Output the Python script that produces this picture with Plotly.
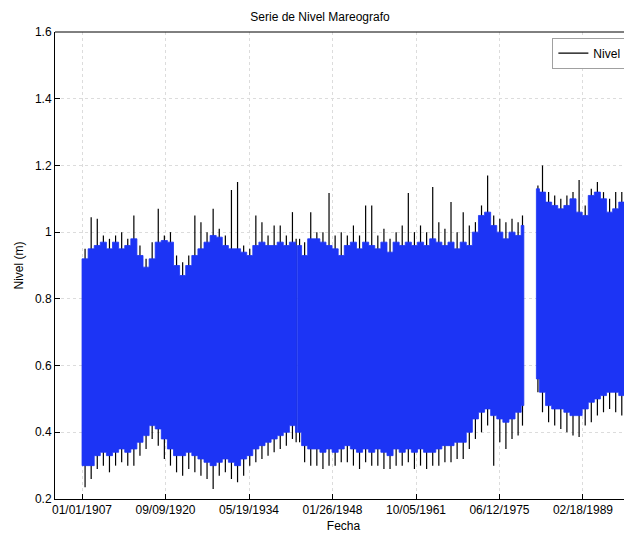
import pandas as pd
import plotly.graph_objects as go

# ---- data ----
years = list(range(1907, 1998))

upper_blue = [
    0.92, 0.95, 0.96, 0.97, 0.95, 0.97, 0.95, 0.96, 0.98, 0.93,   # 1907-1916
    0.895, 0.92, 0.97, 0.975, 0.97, 0.90, 0.87, 0.90, 0.93, 0.95,  # 1917-1926
    0.97, 0.99, 0.985, 0.96, 0.95, 0.95, 0.94, 0.93, 0.96, 0.97,   # 1927-1936
    0.96, 0.96, 0.97, 0.96, 0.97, 0.96, 0.93, 0.98, 0.98, 0.97,    # 1937-1946
    0.96, 0.95, 0.93, 0.96, 0.97, 0.95, 0.97, 0.96, 0.95, 0.97,    # 1947-1956
    0.94, 0.97, 0.96, 0.97, 0.96, 0.97, 0.96, 0.98, 0.97, 0.96,    # 1957-1966
    0.97, 0.95, 0.97, 0.96, 1.00, 1.05, 1.06, 1.02, 1.00, 0.98,    # 1967-1976
    1.00, 0.99, 1.02, None, 1.13, 1.12, 1.09, 1.08, 1.07, 1.08,    # 1977-1986
    1.10, 1.06, 1.05, 1.11, 1.12, 1.10, 1.06, 1.07, 1.09, 1.10,    # 1987-1996
    1.05,                                                          # 1997
]
upper_black = [
    0.95, 1.045, 1.04, 0.99, 0.98, 0.99, 1.00, 0.98, 1.05, 0.96,
    0.92, 0.97, 1.07, 0.99, 1.00, 0.93, 0.91, 0.93, 1.05, 1.03,
    1.00, 1.07, 1.01, 0.99, 1.126, 1.15, 0.96, 0.95, 1.05, 1.03,
    0.99, 1.02, 1.02, 0.99, 1.06, 0.98, 0.97, 1.06, 1.00, 1.00,
    1.117, 0.99, 1.00, 0.99, 1.02, 0.99, 1.08, 1.08, 0.99, 1.01,
    0.98, 1.00, 1.02, 1.117, 1.00, 1.02, 1.00, 1.135, 1.03, 1.01,
    1.09, 1.00, 1.06, 1.02, 1.03, 1.08, 1.17, 1.05, 1.04, 1.03,
    1.04, 1.03, 1.05, None, 1.14, 1.20, 1.12, 1.11, 1.10, 1.11,
    1.12, 1.156, 1.08, 1.13, 1.15, 1.12, 1.10, 1.12, 1.12, 1.156,
    1.10,
]
lower_blue = [
    0.30, 0.30, 0.33, 0.34, 0.33, 0.34, 0.35, 0.34, 0.35, 0.37,
    0.39, 0.42, 0.41, 0.38, 0.35, 0.33, 0.33, 0.34, 0.33, 0.32,
    0.31, 0.30, 0.31, 0.32, 0.31, 0.30, 0.32, 0.33, 0.35, 0.36,
    0.37, 0.38, 0.39, 0.40, 0.42, 0.40, 0.36, 0.35, 0.35, 0.34,
    0.35, 0.34, 0.35, 0.36, 0.35, 0.34, 0.35, 0.34, 0.35, 0.34,
    0.33, 0.35, 0.34, 0.35, 0.34, 0.35, 0.34, 0.34, 0.35, 0.36,
    0.36, 0.37, 0.37, 0.40, 0.44, 0.46, 0.47, 0.45, 0.44, 0.43,
    0.44, 0.46, 0.48, None, 0.56, 0.52, 0.48, 0.47, 0.47, 0.46,
    0.45, 0.45, 0.47, 0.49, 0.50, 0.51, 0.52, 0.52, 0.51, 0.52,
    0.52,
]
lower_black = [
    0.235, 0.26, 0.29, 0.30, 0.28, 0.30, 0.31, 0.30, 0.30, 0.33,
    0.35, 0.38, 0.36, 0.32, 0.30, 0.28, 0.27, 0.29, 0.28, 0.27,
    0.26, 0.23, 0.27, 0.28, 0.26, 0.25, 0.27, 0.30, 0.31, 0.32,
    0.33, 0.34, 0.35, 0.36, 0.38, 0.37, 0.31, 0.30, 0.30, 0.29,
    0.30, 0.30, 0.31, 0.31, 0.30, 0.29, 0.31, 0.30, 0.30, 0.29,
    0.29, 0.30, 0.30, 0.31, 0.29, 0.30, 0.29, 0.30, 0.30, 0.31,
    0.31, 0.32, 0.32, 0.35, 0.38, 0.40, 0.42, 0.30, 0.37, 0.35,
    0.38, 0.39, 0.42, None, 0.52, 0.46, 0.43, 0.42, 0.41, 0.40,
    0.39, 0.386, 0.42, 0.43, 0.45, 0.46, 0.47, 0.46, 0.45, 0.46,
    0.46,
]

# recorded periods (gaps in the record between them)
segment_starts = ["1907-01-01", "1942-05-05", "1981-07-01"]
segment_ends = ["1942-03-20", "1979-06-10", "1998-01-01"]

x_tick_labels = ["01/01/1907", "09/09/1920", "05/19/1934", "01/26/1948",
                 "10/05/1961", "06/12/1975", "02/18/1989"]
y_tick_values = [0.2, 0.4, 0.6, 0.8, 1.0, 1.2, 1.4, 1.6]
y_tick_labels = ["0.2", "0.4", "0.6", "0.8", "1", "1.2", "1.4", "1.6"]

# ---- build traces ----
bx, by = [], []      # blue band (polygon per segment)
kx, ky = [], []      # black extremes (vertical strokes)
for s0, s1 in zip(segment_starts, segment_ends):
    s0, s1 = pd.Timestamp(s0), pd.Timestamp(s1)
    bins = []
    for i, yr in enumerate(years):
        if upper_blue[i] is None:
            continue
        a = max(pd.Timestamp(f"{yr}-01-01"), s0)
        b = min(pd.Timestamp(f"{yr + 1}-01-01"), s1)
        if a >= b:
            continue
        bins.append((a, b, i))
    top_x, top_y, bot_x, bot_y = [], [], [], []
    for a, b, i in bins:
        top_x += [a, b]
        top_y += [upper_blue[i], upper_blue[i]]
        bot_x += [a, b]
        bot_y += [lower_blue[i], lower_blue[i]]
        m = a + (b - a) / 2
        kx += [m, m, None]
        ky += [lower_black[i], upper_black[i], None]
    bx += top_x + bot_x[::-1] + [top_x[0], None]
    by += top_y + bot_y[::-1] + [top_y[0], None]

blue = "rgb(28,52,245)"
fig = go.Figure()
fig.add_trace(go.Scatter(x=kx, y=ky, mode="lines", name="Nivel",
                         line=dict(color="black", width=1.2)))
fig.add_trace(go.Scatter(x=bx, y=by, mode="lines", fill="toself",
                         fillcolor=blue, line=dict(color=blue, width=0.8),
                         showlegend=False, name="band"))

tick_dates = [pd.to_datetime(t, format="%m/%d/%Y") for t in x_tick_labels]

font = "Liberation Sans, Arial, sans-serif"
# the page body keeps its default 8px margin, so the figure is 8px smaller
fig.update_layout(
    width=624, height=526,
    margin=dict(l=47, r=0, t=24, b=35),
    paper_bgcolor="white", plot_bgcolor="white",
    font=dict(family=font, size=12, color="black"),
    showlegend=True,
    legend=dict(x=0.862, y=0.988, xanchor="left", yanchor="top",
                bgcolor="white", bordercolor="#a0a0a0", borderwidth=1,
                font=dict(size=12)),
    xaxis=dict(
        type="date", range=["1902-07-28", "1997-03-05"],
        tickmode="array", tickvals=tick_dates, ticktext=x_tick_labels,
        ticks="inside", ticklen=5, tickcolor="black",
        showline=True, linecolor="black", linewidth=1,
        showgrid=True, gridcolor="#dcdcdc", griddash="dot", gridwidth=1,
        zeroline=False, tickfont=dict(size=12), automargin=False,
        title=dict(text="Fecha", font=dict(size=12), standoff=5),
    ),
    yaxis=dict(
        range=[0.2, 1.6], tickmode="array", tickvals=y_tick_values,
        ticktext=y_tick_labels,
        ticks="inside", ticklen=5, tickcolor="black",
        showline=True, linecolor="black", linewidth=1,
        showgrid=True, gridcolor="#dcdcdc", griddash="dot", gridwidth=1,
        zeroline=False, tickfont=dict(size=12), automargin=False,
        title=dict(text="Nivel (m)", font=dict(size=12), standoff=8),
    ),
    title=dict(text="Serie de Nivel Mareografo", x=0.5, xanchor="center",
               y=0.983, yanchor="middle", font=dict(size=12)),
)
fig.add_shape(type="line", xref="paper", yref="paper", x0=0, x1=1, y0=1, y1=1,
              line=dict(color="black", width=1))

fig.write_html("out.html")
